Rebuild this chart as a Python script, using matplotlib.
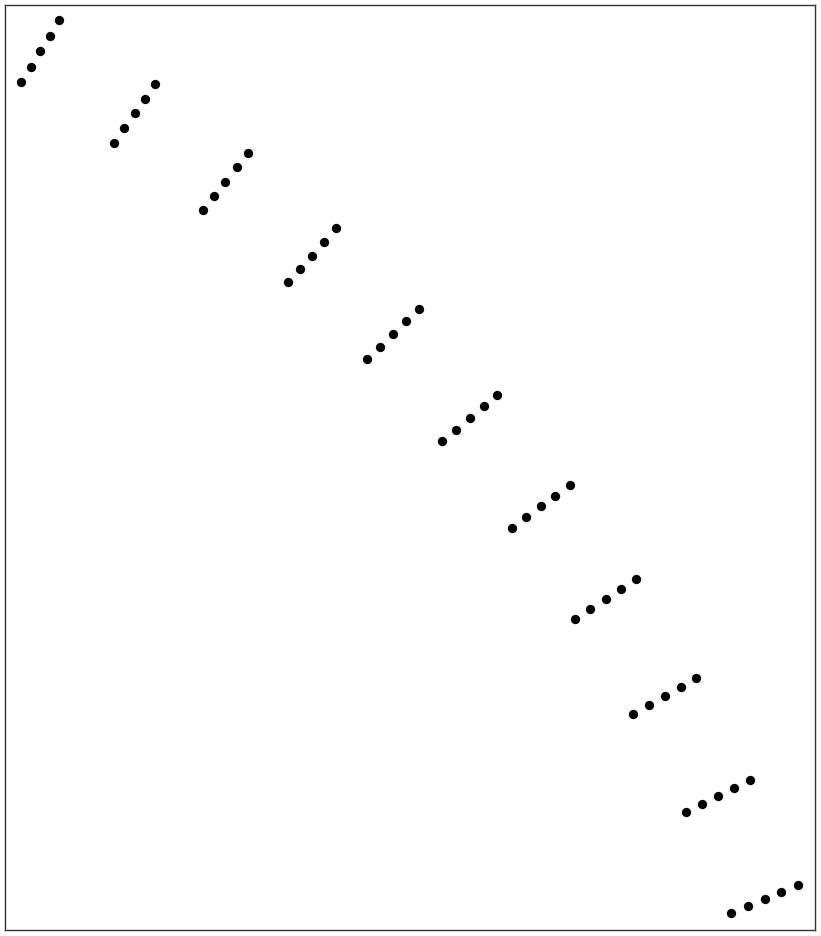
import numpy as np
import matplotlib
matplotlib.use("Agg")
import matplotlib.pyplot as plt

# punto de cada grupo (coordenadas)
x_vals = [
    [21, 31, 40, 50, 59],
    [114, 124, 135, 145, 155],
    [203, 214, 225, 237, 248],
    [288, 300, 312, 324, 336],
    [367, 380, 393, 406, 419],
    [442, 456, 470, 484, 497],
    [512, 526, 541, 555, 570],
    [575, 590, 606, 621, 636],
    [633, 649, 665, 681, 696],
    [686, 702, 718, 734, 750],
    [731, 748, 765, 781, 798],
]
y_vals = [
    [82, 67, 51, 36, 20],
    [143, 128, 113, 99, 84],
    [210, 196, 182, 167, 153],
    [282, 269, 256, 242, 228],
    [359, 347, 334, 321, 309],
    [441, 430, 418, 406, 395],
    [528, 517, 506, 496, 485],
    [619, 609, 599, 589, 579],
    [714, 705, 696, 687, 678],
    [812, 804, 796, 788, 780],
    [913, 906, 899, 892, 885],
]

fig = plt.figure(figsize=(8.21, 9.36), dpi=100)
ax = fig.add_axes([5 / 821, 6 / 936, 810 / 821, 925 / 936])

for xs, ys in zip(x_vals, y_vals):
    ax.scatter(xs, ys, s=45, color='black', linewidths=0)

ax.set_xlim(5, 815)
ax.set_ylim(930, 5)
ax.set_xticks([])
ax.set_yticks([])
for sp in ax.spines.values():
    sp.set_color('#333333')
    sp.set_linewidth(1.0)

fig.savefig('out.png', dpi=100)
